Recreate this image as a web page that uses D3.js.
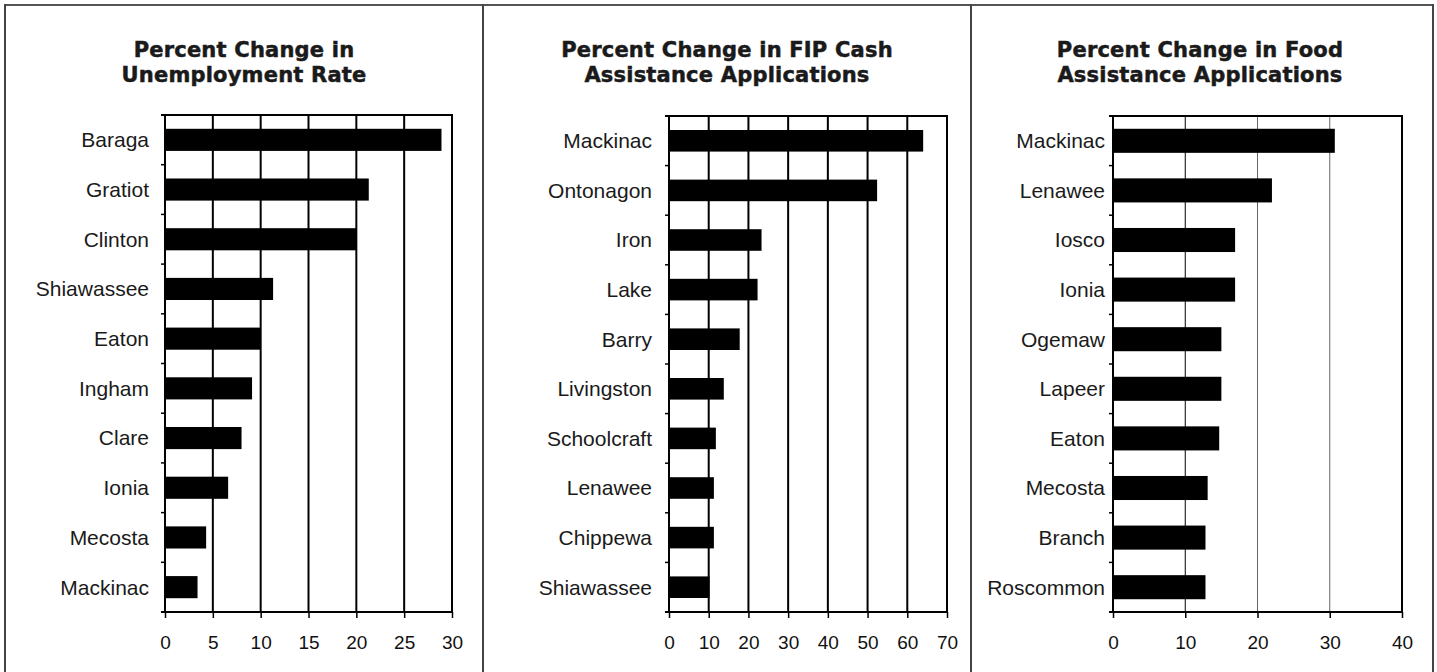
<!DOCTYPE html>
<html>
<head>
<meta charset="utf-8">
<script src="https://cdn.jsdelivr.net/npm/d3@7"></script>
<style>
    body { margin: 0; background: #fff; }
    svg { display: block; }
    .bar-label { font-family: "Liberation Sans", Arial, sans-serif; font-size: 21px; fill: #1a1a1a; }
    .tick-label { font-family: "Liberation Sans", Arial, sans-serif; font-size: 19px; fill: #111; }
    .chart-title { font-family: "DejaVu Sans", sans-serif; font-weight: bold; font-size: 21px; letter-spacing: 0.2px; fill: #1a1a1a; stroke: #1a1a1a; stroke-width: 0.5px; }
</style>
</head>
<body>
<div id="chart"></div>
<script>
// chart data
const unempCounties = ["Baraga", "Gratiot", "Clinton", "Shiawassee", "Eaton", "Ingham", "Clare", "Ionia", "Mecosta", "Mackinac"];
const unempValues = [28.9, 21.3, 20.0, 11.3, 10.0, 9.1, 8.0, 6.6, 4.3, 3.4];
const unempTicks = [0, 5, 10, 15, 20, 25, 30];

const fipCounties = ["Mackinac", "Ontonagon", "Iron", "Lake", "Barry", "Livingston", "Schoolcraft", "Lenawee", "Chippewa", "Shiawassee"];
const fipValues = [64.0, 52.4, 23.3, 22.3, 17.8, 13.8, 11.8, 11.3, 11.3, 10.2];
const fipTicks = [0, 10, 20, 30, 40, 50, 60, 70];

const foodCounties = ["Mackinac", "Lenawee", "Iosco", "Ionia", "Ogemaw", "Lapeer", "Eaton", "Mecosta", "Branch", "Roscommon"];
const foodValues = [30.7, 22.0, 16.9, 16.9, 15.0, 15.0, 14.7, 13.1, 12.8, 12.8];
const foodTicks = [0, 10, 20, 30, 40];

const titles = [
    ["Percent Change in", "Unemployment Rate"],
    ["Percent Change in FIP Cash", "Assistance Applications"],
    ["Percent Change in Food", "Assistance Applications"]
];

const W = 1437, H = 672;

const svg = d3.select("#chart").append("svg")
    .attr("width", W)
    .attr("height", H);

// panel frame
const dividers = [5, 483, 971, 1433];
svg.append("line")
    .attr("x1", 4).attr("x2", 1434)
    .attr("y1", 5).attr("y2", 5)
    .attr("stroke", "#555").attr("stroke-width", 2);
svg.selectAll(".divider")
    .data(dividers)
    .enter().append("line")
    .attr("class", "divider")
    .attr("x1", d => d).attr("x2", d => d)
    .attr("y1", 4).attr("y2", H)
    .attr("stroke", "#444").attr("stroke-width", 2);

const panels = [
    { counties: unempCounties, values: unempValues, ticks: unempTicks, title: titles[0],
      left: 165, right: 452, top: 115, cx: 244, labelGap: 16, pad: 0.555, grid: 2, gridColor: () => "#000" },
    { counties: fipCounties, values: fipValues, ticks: fipTicks, title: titles[1],
      left: 669, right: 947, top: 116, cx: 727, labelGap: 17, pad: 0.565, grid: 2, gridColor: () => "#000" },
    { counties: foodCounties, values: foodValues, ticks: foodTicks, title: titles[2],
      left: 1113, right: 1402, top: 116, cx: 1200, labelGap: 8, pad: 0.515, grid: 1, gridColor: i => i === 1 ? "#000" : "#666" }
];

const bottom = 612;

panels.forEach(p => drawPanel(p));

function drawPanel(p) {
    const g = svg.append("g");
    const n = p.counties.length;
    const maxTick = p.ticks[p.ticks.length - 1];

    const x = d3.scaleLinear()
        .domain([0, maxTick])
        .range([p.left, p.right]);

    const y = d3.scaleBand()
        .domain(p.counties)
        .range([p.top, bottom])
        .paddingInner(p.pad)
        .paddingOuter(p.pad / 2);

    // title
    g.selectAll(".chart-title")
        .data(p.title)
        .enter().append("text")
        .attr("class", "chart-title")
        .attr("x", p.cx)
        .attr("y", (d, i) => 57 + i * 24.5)
        .attr("text-anchor", "middle")
        .text(d => d);

    // vertical gridlines (skip 0, the axis)
    g.selectAll(".grid")
        .data(p.ticks.slice(1, -1))
        .enter().append("line")
        .attr("class", "grid")
        .attr("x1", d => x(d)).attr("x2", d => x(d))
        .attr("y1", p.top).attr("y2", bottom)
        .attr("stroke", (d, i) => p.gridColor(i + 1))
        .attr("stroke-width", p.grid);

    // bars
    g.selectAll(".bar")
        .data(p.values)
        .enter().append("rect")
        .attr("class", "bar")
        .attr("x", x(0))
        .attr("y", (d, i) => y(p.counties[i]))
        .attr("width", d => x(d) - x(0))
        .attr("height", y.bandwidth())
        .attr("fill", "#000");

    // plot frame top + right
    g.append("path")
        .attr("d", `M${x(0) - 4},${p.top}H${x(maxTick)}V${bottom}`)
        .attr("fill", "none")
        .attr("stroke", "#000")
        .attr("stroke-width", 2);

    // category labels
    g.selectAll(".bar-label")
        .data(p.counties)
        .enter().append("text")
        .attr("class", "bar-label")
        .attr("x", x(0) - p.labelGap)
        .attr("y", d => y(d) + y.bandwidth() / 2)
        .attr("dy", "0.35em")
        .attr("text-anchor", "end")
        .text(d => d);

    // left axis with boundary ticks
    g.selectAll(".ytick")
        .data(d3.range(n + 1))
        .enter().append("line")
        .attr("class", "ytick")
        .attr("x1", x(0) - 4).attr("x2", x(0))
        .attr("y1", i => p.top + i * y.step())
        .attr("y2", i => p.top + i * y.step())
        .attr("stroke", "#000").attr("stroke-width", 1.5);
    g.append("line")
        .attr("x1", x(0)).attr("x2", x(0))
        .attr("y1", p.top).attr("y2", bottom)
        .attr("stroke", "#000").attr("stroke-width", 2);

    // bottom axis
    const xAxis = d3.axisBottom(x)
        .tickValues(p.ticks)
        .tickSize(6)
        .tickPadding(17.5)
        .tickFormat(d3.format("d"));

    const ax = g.append("g")
        .attr("transform", `translate(0, ${bottom})`)
        .call(xAxis);
    ax.select(".domain")
        .attr("stroke", "#000")
        .attr("stroke-width", 2)
        .attr("d", `M${x(0) - 4},0H${x(maxTick)}`);
    ax.selectAll(".tick line")
        .attr("stroke", "#000")
        .attr("stroke-width", 1.5);
    ax.selectAll(".tick text")
        .attr("class", "tick-label")
        .attr("fill", null);
}
</script>
</body>
</html>
